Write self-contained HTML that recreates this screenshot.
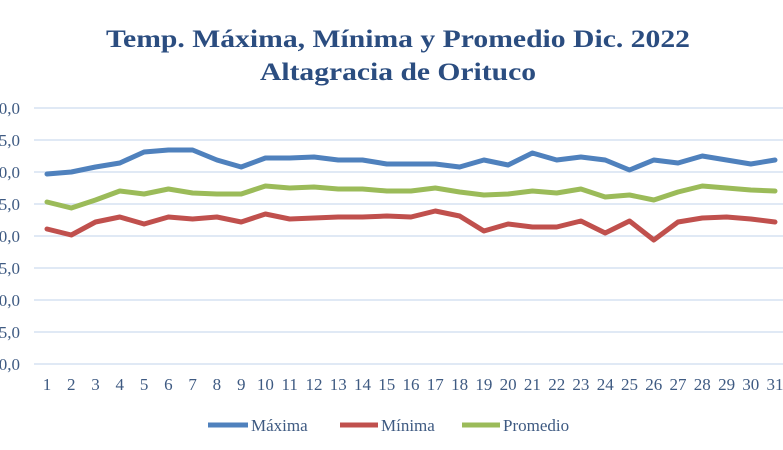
<!DOCTYPE html>
<html><head><meta charset="utf-8"><style>
body{margin:0;background:#fff;width:783px;height:450px;overflow:hidden}
svg{display:block}
</style></head><body>
<svg width="783" height="450" xmlns="http://www.w3.org/2000/svg" font-family="Liberation Serif, serif">
<text x="398" y="47" text-anchor="middle" font-size="25" font-weight="bold" fill="#2b4d80" textLength="584" lengthAdjust="spacingAndGlyphs">Temp. Máxima, Mínima y Promedio Dic. 2022</text>
<text x="398" y="80" text-anchor="middle" font-size="25" font-weight="bold" fill="#2b4d80" textLength="276" lengthAdjust="spacingAndGlyphs">Altagracia de Orituco</text>
<g stroke="#d6e2f2" stroke-width="1.5">
<line x1="34" y1="108" x2="783" y2="108"/><line x1="34" y1="140" x2="783" y2="140"/><line x1="34" y1="172" x2="783" y2="172"/><line x1="34" y1="204" x2="783" y2="204"/><line x1="34" y1="236" x2="783" y2="236"/><line x1="34" y1="268" x2="783" y2="268"/><line x1="34" y1="300" x2="783" y2="300"/><line x1="34" y1="332" x2="783" y2="332"/>
</g>
<line x1="34" y1="364" x2="783" y2="364" stroke="#d6e2f2" stroke-width="1.5"/>
<g fill="#3e5a82" font-size="17" text-anchor="end">
<text x="20" y="114">40,0</text><text x="20" y="146">35,0</text><text x="20" y="178">30,0</text><text x="20" y="210">25,0</text><text x="20" y="242">20,0</text><text x="20" y="274">15,0</text><text x="20" y="306">10,0</text><text x="20" y="338">5,0</text><text x="20" y="370">0,0</text>
</g>
<g fill="#3e5a82" font-size="17" text-anchor="middle">
<text x="47" y="390">1</text><text x="71.3" y="390">2</text><text x="95.5" y="390">3</text><text x="119.8" y="390">4</text><text x="144.1" y="390">5</text><text x="168.4" y="390">6</text><text x="192.6" y="390">7</text><text x="216.9" y="390">8</text><text x="241.2" y="390">9</text><text x="265.4" y="390">10</text><text x="289.7" y="390">11</text><text x="314" y="390">12</text><text x="338.2" y="390">13</text><text x="362.5" y="390">14</text><text x="386.8" y="390">15</text><text x="411" y="390">16</text><text x="435.3" y="390">17</text><text x="459.6" y="390">18</text><text x="483.9" y="390">19</text><text x="508.1" y="390">20</text><text x="532.4" y="390">21</text><text x="556.7" y="390">22</text><text x="580.9" y="390">23</text><text x="605.2" y="390">24</text><text x="629.5" y="390">25</text><text x="653.8" y="390">26</text><text x="678" y="390">27</text><text x="702.3" y="390">28</text><text x="726.6" y="390">29</text><text x="750.8" y="390">30</text><text x="775" y="390">31</text>
</g>
<g fill="none" stroke-width="5" stroke-linejoin="round" stroke-linecap="round">
<polyline stroke="#4f81bd" points="47,174 71.3,172 95.5,167 119.8,163 144.1,152 168.4,150 192.6,150 216.9,160 241.2,167 265.4,158 289.7,158 314,157 338.2,160 362.5,160 386.8,164 411,164 435.3,164 459.6,167 483.9,160 508.1,165 532.4,153 556.7,160 580.9,157 605.2,160 629.5,170 653.8,160 678,163 702.3,156 726.6,160 750.8,164 775,160"/>
<polyline stroke="#c0504d" points="47,229 71.3,235 95.5,222 119.8,217 144.1,224 168.4,217 192.6,219 216.9,217 241.2,222 265.4,214 289.7,219 314,218 338.2,217 362.5,217 386.8,216 411,217 435.3,211 459.6,216 483.9,231 508.1,224 532.4,227 556.7,227 580.9,221 605.2,233 629.5,221 653.8,240 678,222 702.3,218 726.6,217 750.8,219 775,222"/>
<polyline stroke="#9bbb59" points="47,202 71.3,208 95.5,200 119.8,191 144.1,194 168.4,189 192.6,193 216.9,194 241.2,194 265.4,186 289.7,188 314,187 338.2,189 362.5,189 386.8,191 411,191 435.3,188 459.6,192 483.9,195 508.1,194 532.4,191 556.7,193 580.9,189 605.2,197 629.5,195 653.8,200 678,192 702.3,186 726.6,188 750.8,190 775,191"/>
</g>
<g stroke-width="5">
<line x1="208" y1="425" x2="248" y2="425" stroke="#4f81bd"/>
<line x1="340" y1="425" x2="378" y2="425" stroke="#c0504d"/>
<line x1="462" y1="425" x2="500" y2="425" stroke="#9bbb59"/>
</g>
<g fill="#3e5a82" font-size="17">
<text x="251" y="431">Máxima</text><text x="381" y="431">Mínima</text><text x="503" y="431">Promedio</text>
</g>
</svg>
</body></html>
